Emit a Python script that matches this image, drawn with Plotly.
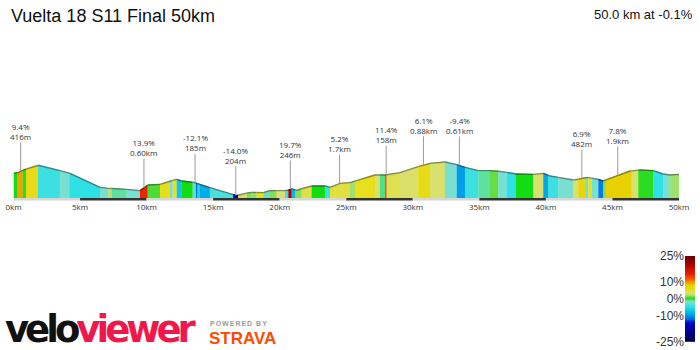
import numpy as np
import plotly.graph_objects as go

# ---------------- data ----------------
title_text = "Vuelta 18 S11 Final 50km"
summary_text = "50.0 km at -0.1%"

profile_km = [0.0, 0.36, 0.74, 1.86, 3.49, 4.24, 6.50, 7.10, 8.50, 9.50, 10.13, 11.01, 11.89,
              12.26, 12.64, 13.51, 14.76, 16.77, 17.27, 17.90, 18.77, 19.27, 20.53, 20.90, 21.28,
              22.28, 23.40, 23.78, 24.53, 25.28, 27.16, 27.91, 29.04, 30.41, 31.29, 32.29, 33.17,
              33.92, 34.92, 35.93, 36.80, 37.68, 39.05, 39.80, 40.31, 42.06, 42.56, 43.07, 43.82,
              44.31, 45.32, 46.32, 47.07, 48.07, 48.82, 49.32, 50.0]
profile_elev = [348, 352, 368, 396, 364, 348, 264, 258, 252, 244, 278, 282, 304,
                312, 302, 294, 262, 214, 226, 234, 232, 244, 244, 254, 246,
                272, 272, 264, 288, 292, 338, 338, 352, 388, 408, 418, 404,
                384, 364, 364, 358, 344, 342, 348, 332, 308, 314, 324, 314,
                302, 334, 362, 368, 364, 344, 338, 342]

band_edges_km = [0.0, 0.29, 0.69, 0.94, 1.82, 3.49, 4.19, 6.50, 7.12, 7.38, 8.50, 9.50, 10.08,
                 11.01, 11.76, 11.96, 12.26, 12.64, 13.46, 13.71, 13.79, 14.01, 14.76, 16.51,
                 16.87, 17.52, 17.90, 18.27, 18.77, 19.27, 19.77, 20.40, 20.65, 20.90, 21.15,
                 21.65, 22.40, 23.40, 23.78, 25.28, 25.66, 27.16, 27.53, 27.91, 28.04, 29.04,
                 30.41, 31.29, 32.42, 33.30, 33.92, 34.92, 35.80, 36.42, 37.05, 37.75, 39.05,
                 39.80, 40.18, 40.93, 42.06, 42.43, 42.94, 43.18, 43.44, 43.94, 44.31, 44.51,
                 46.45, 46.94, 48.07, 48.82, 49.32, 50.0]
band_grade = [0.0, 9.4, 0.3, 6.0, -4.0, -2.0, -4.5, -2.0, 2.5, -1.0, -2.0, 13.9, 0.7,
              5.5, -2.0, 5.0, -7.0, 0.0, -3.0, -12.1, -6.0, -8.5, -3.5, -14.0,
              3.0, 1.5, 1.8, 5.0, -1.5, 1.5, 3.0, -4.0, 19.7, -8.0, 1.5,
              4.0, 0.0, -4.0, 4.2, 2.0, 5.2, 3.0, -0.8, 11.4, 3.8, 3.2,
              6.1, 3.0, -2.0, -9.4, -4.0, -1.0, 1.0, -2.0, -4.5, 0.0, 3.0,
              -9.0, -4.0, -2.0, 3.0, 6.9, -2.0, 5.0, -2.0, -11.0, 1.5, 7.8,
              3.0, 0.3, -4.5, -2.0, 2.0]

climb_km = [0.54, 9.8, 13.64, 16.7, 20.8, 24.5, 28.0, 30.8, 33.5, 42.7, 45.4]
climb_grade = ["9.4%", "13.9%", "-12.1%", "-14.0%", "19.7%", "5.2%", "11.4%", "6.1%",
               "-9.4%", "6.9%", "7.8%"]
climb_detail = ["416m", "0.60km", "185m", "204m", "246m", "1.7km", "158m", "0.88km",
                "0.61km", "482m", "1.9km"]

km_ticks = [0, 5, 10, 15, 20, 25, 30, 35, 40, 45, 50]
grade_ticks = [25, 10, 0, -10, -25]

# colour scale (grade -> colour)
scale_grades = [-25, -14, -12, -9, -5, -2, -1, 0, 1, 2, 3, 5, 8, 9.4, 11.4, 14, 20, 25]
scale_colors = ["#00004a", "#0000cc", "#0066e0", "#00a8e8", "#20e0e8", "#78e0d0", "#60e0a0",
                "#11dd11", "#66dd44", "#a0e070", "#d8e070", "#e8e020", "#e8d000", "#f0a000",
                "#f06000", "#ee2200", "#aa0000", "#6a0000"]

# ---------------- helpers ----------------
BASE = 200.0
LABEL_FONT = "Open Sans, DejaVu Sans, sans-serif"
SANS = "Liberation Sans, Arial, sans-serif"


def hex_rgb(h):
    h = h.lstrip("#")
    return [int(h[i:i + 2], 16) for i in (0, 2, 4)]


rgb_stops = np.array([hex_rgb(c) for c in scale_colors], dtype=float)


def grade_rgb(g):
    return [float(np.interp(g, scale_grades, rgb_stops[:, k])) for k in range(3)]


def css(rgb, f=1.0):
    return "rgb(%d,%d,%d)" % tuple(int(round(v * f)) for v in rgb)


pk = np.array(profile_km, dtype=float)
pe = np.array(profile_elev, dtype=float)

fig = go.Figure()

# profile bands
for i, g in enumerate(band_grade):
    a, b = band_edges_km[i], band_edges_km[i + 1]
    inner = (pk > a) & (pk < b)
    xs = [a] + list(pk[inner]) + [b]
    ys = [float(np.interp(a, pk, pe))] + list(pe[inner]) + [float(np.interp(b, pk, pe))]
    rgb = grade_rgb(g)
    fig.add_trace(go.Scatter(
        x=xs + [b, a], y=ys + [BASE, BASE], mode="lines", fill="toself",
        fillcolor=css(rgb), line=dict(color=css(rgb), width=0.6),
        hoverinfo="skip", showlegend=False, xaxis="x", yaxis="y"))
    fig.add_trace(go.Scatter(
        x=xs, y=ys, mode="lines", line=dict(color=css(rgb, 0.62), width=1.4),
        hoverinfo="skip", showlegend=False, xaxis="x", yaxis="y"))

# base strip (alternating 5 km)
for j in range(len(km_ticks) - 1):
    fig.add_shape(type="rect", xref="x", yref="y", x0=km_ticks[j], x1=km_ticks[j + 1],
                  y0=BASE - 15, y1=BASE, line=dict(width=0),
                  fillcolor="#d6d6d6" if j % 2 == 0 else "#333333", layer="above")

# climb labels
for k, g, d in zip(climb_km, climb_grade, climb_detail):
    yk = float(np.interp(k, pk, pe))
    fig.add_annotation(x=k, y=yk, xref="x", yref="y", text=g + "<br>" + d, showarrow=True,
                       arrowhead=0, arrowwidth=1, arrowcolor="#9a9a9a", ax=0, ay=-40,
                       font=dict(family=LABEL_FONT, size=8, color="#333"), borderpad=0)

# colour bar as heatmap
cb_vals = np.linspace(-25, 25, 201)
norm = [(s + 25) / 50 for s in scale_grades]
fig.add_trace(go.Heatmap(
    z=cb_vals.reshape(-1, 1), y=cb_vals, x=[0], zmin=-25, zmax=25,
    colorscale=[[n, c] for n, c in zip(norm, scale_colors)], showscale=False,
    hoverinfo="skip", xaxis="x2", yaxis="y2"))

# title & summary
fig.add_annotation(xref="paper", yref="paper", x=9 / 700, y=1 - 16 / 350, xanchor="left",
                   yanchor="middle", text=title_text, showarrow=False,
                   font=dict(family=SANS, size=18, color="#111"))
fig.add_annotation(xref="paper", yref="paper", x=695 / 700, y=1 - 14 / 350, xanchor="right",
                   yanchor="middle", text=summary_text, showarrow=False,
                   font=dict(family=SANS, size=13, color="#111"))

# logos
fig.add_annotation(xref="paper", yref="paper", x=3 / 700, y=1 - 329 / 350, xanchor="left",
                   yanchor="middle", showarrow=False,
                   text='<b><span style="letter-spacing:-4px">'
                        '<span style="fill:#111111">velo</span>'
                        '<span style="fill:#f2174a">viewer</span></span></b>',
                   font=dict(family="DejaVu Sans, Liberation Sans, Arial", size=37, color="#111"))
fig.add_annotation(xref="paper", yref="paper", x=208 / 700, y=1 - 323 / 350, xanchor="left",
                   yanchor="middle", showarrow=False,
                   text='<b><span style="letter-spacing:1px">POWERED BY</span></b>',
                   font=dict(family=SANS, size=7, color="#9a9a9a"))
fig.add_annotation(xref="paper", yref="paper", x=207 / 700, y=1 - 338 / 350, xanchor="left",
                   yanchor="middle", showarrow=False, text="<b>STRAVA</b>",
                   font=dict(family=SANS, size=17, color="#fc4c02"))

fig.update_layout(
    template="none",
    width=700, height=350, margin=dict(l=0, r=0, t=0, b=0, pad=0, autoexpand=False),
    paper_bgcolor="white", plot_bgcolor="white", showlegend=False,
    xaxis=dict(domain=[13.5 / 700, 679 / 700], range=[0, 50], tickvals=km_ticks,
               ticktext=["%dkm" % k for k in km_ticks], showgrid=False, zeroline=False,
               showline=False, ticks="", ticklen=0, automargin=False,
               tickfont=dict(family=LABEL_FONT, size=8, color="#333"),
               anchor="y", fixedrange=True),
    yaxis=dict(domain=[(350 - 201) / 350, (350 - 100) / 350], range=[BASE - 18, BASE + 98 * 6],
               visible=False, fixedrange=True, automargin=False),
    xaxis2=dict(domain=[685 / 700, 695 / 700], range=[-0.5, 0.5], visible=False, anchor="y2",
                automargin=False),
    yaxis2=dict(domain=[(350 - 342) / 350, (350 - 256) / 350], range=[-25, 25],
                tickvals=grade_ticks, ticktext=["%d%%" % t for t in grade_ticks],
                showgrid=False, zeroline=False, showline=False, ticks="", ticklen=0,
                anchor="x2", automargin=False,
                tickfont=dict(family=SANS, size=12, color="#333")),
)

fig.write_html("out.html")
